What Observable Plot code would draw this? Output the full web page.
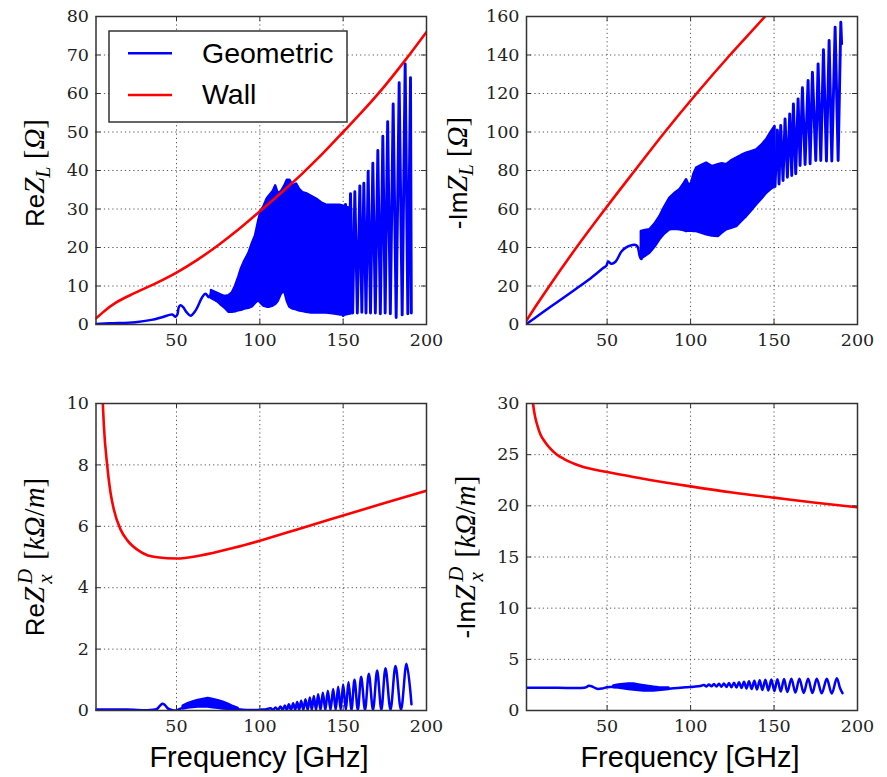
<!DOCTYPE html>
<html><head><meta charset="utf-8">
<script src="https://cdn.jsdelivr.net/npm/d3@7"></script>
<script src="https://cdn.jsdelivr.net/npm/@observablehq/plot@0.6"></script>
<style>
body{margin:0;background:#fff;}
#wrap{position:relative;width:887px;height:777px;overflow:hidden;background:#fff;}
#wrap svg{position:absolute;}
</style></head><body><div id="wrap"></div>
<script>
// ---------- tick labels ----------
const xTicks = [50, 100, 150, 200];
const xDomain = [1.7, 200];
const yTicksReZL = [0, 10, 20, 30, 40, 50, 60, 70, 80];
const yTicksImZL = [0, 20, 40, 60, 80, 100, 120, 140, 160];
const yTicksReZx = [0, 2, 4, 6, 8, 10];
const yTicksImZx = [0, 5, 10, 15, 20, 25, 30];
const seriesNames = ["Geometric", "Wall"];

// ---------- Re Z_L [Ohm] ----------
const wallReZL = [[1.7,1.6],[7,3.6],[13.4,5.6],[25,8.2],[37.5,10.7],[50,13.5],[62.5,16.8],[75,20.6],[87.5,24.8],[100,29.4],[112.5,34.1],[125,39],[137.5,44.3],[150,50],[162.5,55.8],[175,62],[187.5,68.8],[200,76]];
const geoReZLLine = [[1.7,0.1],[10,0.3],[25.4,0.6],[35,1.2],[41.4,1.9],[47.4,2.6],[49.4,2.0],[50.5,2.6],[51.4,4.5],[52.4,5.0],[54,4.5],[56,3.2],[58.4,2.3],[61.4,3.6],[63.5,5.4],[65.4,7.1],[67.4,8.0],[69.4,7.1],[71,8.6]];
const geoReZLBand = [[71,6.8,8.8],[73,6.3,8.4],[75,5.8,8.0],[77,5.0,7.6],[79,4.3,7.3],[81.4,3.2,7.5],[83.5,3.2,8.2],[85.5,3.3,10],[87.4,3.6,12.3],[89,3.7,14.5],[91,4.0,16.5],[93.4,4.2,18.4],[95.5,4.6,21],[97.4,5.5,23],[99.4,6.2,27],[100.8,5.5,29.5],[102.4,4.8,30.5],[104.4,4.5,32.6],[106,4.5,33.5],[108,4.8,34.5],[109.5,5.2,36],[111,6,34],[113,8,34.5],[115,8.5,36],[116.5,6,37.5],[118,4.5,37.5],[120,4.0,36],[122,3.8,36.5],[124,3.5,35],[126,3.4,34.2],[128,3.2,34],[131,3.0,33.3],[134,3.0,32.6],[137,3.0,31.6],[140,3.0,31],[144,2.8,31],[148,2.5,31],[152,2.5,30.5],[155,2.8,30]];
const geoReZLSpikes = [[150,2.3],[151.4,31.2],[152.9,3.2],[154.4,34],[155.7,3.0],[157,34.5],[158.5,3.0],[160,36],[161.2,3.2],[162.4,36.7],[163.7,3.0],[165,39.8],[166.4,3.0],[167.8,41.9],[169.3,3.0],[170.8,45.2],[172.3,2.8],[173.8,48.9],[175.2,3.0],[176.7,52.7],[178.3,2.8],[180,57.3],[181.8,1.8],[183.6,62.8],[185.4,2.5],[187.2,67.7],[188.8,2.8],[190.4,64.1],[190.9,3.0]];

// ---------- -Im Z_L [Ohm] ----------
const wallImZL = [[1.7,2],[8,10.5],[15,19.5],[31.6,40],[48.8,60],[66.6,80],[84.6,100],[103.6,120],[123.6,140],[144.6,160],[150,165.3]];
const geoImZLLine = [[1.7,0.3],[10,5.4],[20,11.6],[30,17.7],[40,23.9],[47.6,29.3],[49.5,30.5],[50.6,32.7],[52.6,31.5],[55,32.6],[58.6,37.9],[61,39.8],[63.6,40.9],[66.6,41.4],[68.2,40.5],[69.6,35.3],[70.6,34]];
const geoImZLBand = [[70.5,34,48.3],[73,35.5,48.8],[75.6,37,49.2],[78.5,40,52],[81.6,44,56],[84.5,47,61],[87.6,49.2,65.6],[90.5,49.5,68],[93.6,49.2,70],[96,48.8,73],[97.6,48.3,75.2],[99,48.5,72.5],[100.6,48.5,73.4],[102,48.3,78],[103.6,48.3,81.2],[106.5,47.5,82.5],[109.6,46.6,83.8],[113,46,82],[116.6,45.7,83],[119,47.5,83.5],[121.6,49.2,83],[124.5,50,85],[127.6,50.9,86.4],[130.5,53.5,87.8],[133.6,56.1,89],[136.5,59,89.8],[139.6,62.2,90.7],[142.5,65,93],[145.6,68.2,96],[148,70,99.5],[150.6,71.7,102.9]];
const geoImZLSpikes = [[150.6,71.7],[152,101],[153,73],[154,103.4],[155.4,74.8],[156.6,106.8],[158,76.5],[159.4,109.4],[160.6,77.4],[161.6,114.6],[163,78.3],[164.4,117.2],[165.6,82.6],[167,123],[168.6,83.1],[170.4,126.8],[171.6,83.5],[173,131],[175,85.2],[176.4,135.4],[178,85.2],[179.6,142.7],[181.4,84.9],[183,147.5],[184.6,84.9],[186.6,154.5],[188.4,85.2],[190,157],[190.5,145.8]];

// ---------- Re Z_x^D [kOhm/m] ----------
const wallReZx = [[5.2,10.8],[5.8,10],[6.4,9.3],[8.4,8.0],[10.4,7.1],[12.4,6.55],[16.4,5.9],[20.4,5.55],[28.4,5.17],[38.4,4.99],[50,4.95],[64.4,5.05],[84.4,5.3],[100,5.53],[124.4,5.93],[150,6.35],[174.4,6.75],[200,7.16]];
const geoReZxLine = [[1.7,0.03],[20,0.03],[38,0.04],[40,0.15],[41.5,0.22],[43,0.18],[45,0.06],[47,0.02],[49.5,0.0],[52,0.05],[54,0.1]];
const geoReZxBand = [[54,0.05,0.14],[57,0.08,0.22],[60,0.1,0.28],[63,0.11,0.33],[66,0.11,0.36],[69,0.11,0.39],[72,0.09,0.36],[75,0.07,0.32],[78,0.05,0.27],[81,0.04,0.21],[84,0.03,0.13],[87,0.02,0.07]];
const geoReZxTail = [[87,0.04],[92,0.02],[97,0.02],[101,0.03],[104,0.04],[106.4,0.07],[107.9,0.02],[109.4,0.1],[110.9,0.02],[112.4,0.13],[113.7,0.02],[115,0.16],[116.2,0.02],[117.4,0.2],[118.7,0.02],[120,0.24],[121.2,0.02],[122.4,0.28],[123.6,0.02],[124.8,0.32],[126.1,0.02],[127.4,0.37],[128.7,0.02],[130,0.42],[131.2,0.02],[132.4,0.47],[133.7,0.02],[135,0.53],[136.4,0.02],[137.8,0.58],[139.3,0.02],[140.8,0.64],[142.4,0.02],[144,0.7],[145.5,0.02],[147,0.77],[148.5,0.02],[150,0.85],[151.6,0.02],[153.2,0.93],[155,0.02],[156.8,1.0],[158.8,0.02],[160.8,1.1],[163.1,0.02],[165.4,1.2],[167.9,0.02],[170.4,1.3],[172.9,0.02],[175.4,1.38],[178.4,0.02],[181.4,1.45],[184.7,0.02],[188,1.52],[191,0.2]];

// ---------- -Im Z_x^D [kOhm/m] ----------
const wallImZx = [[5,31],[5.6,30],[7,28.6],[8.5,27.7],[10,27.0],[13,26.2],[16,25.6],[20,25.0],[24,24.6],[34,23.9],[50,23.3],[70,22.7],[100,21.9],[125,21.3],[150,20.8],[175,20.3],[200,19.85]];
const geoImZxLine = [[1.7,2.22],[20,2.22],[37,2.25],[39,2.42],[41,2.35],[44,2.12],[47,2.15],[50,2.28],[54,2.32]];
const geoImZxBand = [[54,2.22,2.4],[57,2.2,2.5],[60,2.12,2.55],[63,2.05,2.6],[66,2.0,2.58],[69,1.95,2.5],[72,1.9,2.42],[75,1.9,2.35],[78,1.9,2.28],[81,1.95,2.22],[84,2.0,2.2],[87,2.05,2.2]];
const geoImZxTail = [[87,2.12],[92,2.2],[97,2.28],[102,2.33],[106,2.4],[108,2.5],[109.5,2.35],[111,2.55],[112.5,2.36],[114,2.58],[115.5,2.34],[117,2.62],[118.5,2.32],[120,2.65],[121.5,2.3],[123,2.68],[124.5,2.27],[126,2.72],[127.5,2.24],[129,2.75],[130.5,2.2],[132,2.8],[133.5,2.16],[135,2.85],[136.6,2.1],[138.2,2.9],[139.8,2.05],[141.4,2.95],[143,2.0],[144.8,3.0],[146.6,1.95],[148.4,3.02],[150.2,1.9],[152,3.05],[154,1.85],[156,3.08],[158,1.8],[160.4,3.1],[162.8,1.75],[165.2,3.1],[167.8,1.72],[170.4,3.1],[173,1.7],[175.6,3.1],[178.6,1.68],[181.6,3.1],[184.6,1.66],[187.6,3.15],[189.5,2.2],[191,1.7]];

// ---------- drawing ----------
const BLUE = "#0000ff", RED = "#ff0000";
const wrap = document.getElementById("wrap");
const fx = d => d[0], fy = d => d[1];
const SANS = "'Liberation Sans', Arial, sans-serif";
const SERIF = "'Liberation Serif', 'Times New Roman', serif";
const TICKFONT = "'DejaVu Serif', serif";

function panel(cfg) {
  const {left, top, width, height, mL, mR, mT, mB, yDomain, yTicks, wall, line, band, tail, tailCurve, tailWidth} = cfg;
  const innerW = width - mL - mR, innerH = height - mT - mB;
  const gridStyle = {stroke: "#444", strokeOpacity: 0.9, strokeWidth: 1, strokeDasharray: "1.2,3"};
  const tickText = {tickSize: 0, label: null};
  const svg = Plot.plot({
    width, height,
    marginLeft: mL, marginRight: mR, marginTop: mT, marginBottom: mB,
    style: "background: transparent; overflow: visible;",
    x: {domain: xDomain},
    y: {domain: yDomain},
    marks: [
      Plot.gridX(xTicks.filter(t => t < xDomain[1]), gridStyle),
      Plot.gridY(yTicks.filter(t => t > yDomain[0] && t < yDomain[1]), gridStyle),
      Plot.line(line, {x: fx, y: fy, stroke: BLUE, strokeWidth: 2.5, curve: "catmull-rom", clip: true}),
      Plot.areaY(band, {x: fx, y1: d => d[1], y2: d => d[2], fill: BLUE, stroke: BLUE, strokeWidth: 2.5, clip: true}),
      Plot.line(tail, {x: fx, y: fy, stroke: BLUE, strokeWidth: tailWidth, curve: tailCurve, clip: true}),
      Plot.line(wall, {x: fx, y: fy, stroke: RED, strokeWidth: 2.6, curve: "monotone-x", clip: true}),
      Plot.ruleX(xTicks, {insetTop: innerH - 5, stroke: "#333"}),
      Plot.ruleX(xTicks, {insetBottom: innerH - 5, stroke: "#333"}),
      Plot.ruleY(yTicks, {insetLeft: innerW - 5, stroke: "#333"}),
      Plot.ruleY(yTicks, {insetRight: innerW - 5, stroke: "#333"}),
      Plot.frame({stroke: "#333", strokeWidth: 1.5}),
      Plot.axisX(xTicks, {...tickText, tickPadding: 9}),
      Plot.axisY(yTicks, {...tickText, tickPadding: 7})
    ]
  });
  // at this point every text element in the svg is a tick label: style them like the reference
  d3.select(svg).selectAll("text")
    .style("font-family", TICKFONT).style("font-size", "17.5px").style("fill", "#222");
  svg.style.left = left + "px";
  svg.style.top = top + "px";
  wrap.appendChild(svg);
  return svg;
}

function ylabel(svg, x, y, parts) {
  const t = d3.select(svg).append("text")
    .attr("transform", `translate(${x},${y}) rotate(-90)`)
    .attr("text-anchor", "middle").attr("fill", "#000");
  for (const p of parts) {
    const s = t.append("tspan")
      .attr("font-family", p.sans ? SANS : SERIF)
      .attr("font-style", p.it ? "italic" : "normal")
      .attr("font-size", p.size || (p.sans ? 26 : 29))
      .text(p.t);
    if (p.dx) s.attr("dx", p.dx);
    if (p.dy) s.attr("dy", p.dy);
  }
}

function xlabel(svg, x, y) {
  d3.select(svg).append("text").attr("x", x).attr("y", y)
    .attr("text-anchor", "middle").attr("font-family", SANS).attr("font-size", 29).attr("fill", "#000")
    .text("Frequency [GHz]");
}

const L = {left: 0, width: 440, mL: 95.5, mR: 14};
const R = {left: 440, width: 447, mL: 86, mR: 30};
const T = {top: 0, height: 380, mT: 16, mB: 56};
const B = {top: 380, height: 397, mT: 23, mB: 67};

const p1 = panel({...L, ...T, yDomain: [0, 80], yTicks: yTicksReZL, wall: wallReZL, line: geoReZLLine, band: geoReZLBand, tail: geoReZLSpikes, tailCurve: "linear", tailWidth: 2.9});
const p2 = panel({...R, ...T, yDomain: [0, 160], yTicks: yTicksImZL, wall: wallImZL, line: geoImZLLine, band: geoImZLBand, tail: geoImZLSpikes, tailCurve: "linear", tailWidth: 2.9});
const p3 = panel({...L, ...B, yDomain: [0, 10], yTicks: yTicksReZx, wall: wallReZx, line: geoReZxLine, band: geoReZxBand, tail: geoReZxTail, tailCurve: "catmull-rom", tailWidth: 2.5});
const p4 = panel({...R, ...B, yDomain: [0, 30], yTicks: yTicksImZx, wall: wallImZx, line: geoImZxLine, band: geoImZxBand, tail: geoImZxTail, tailCurve: "catmull-rom", tailWidth: 2.5});

ylabel(p1, 43.5, 173, [
  {t: "Re", sans: true}, {t: "Z", it: true}, {t: "L", it: true, size: 20, dy: 6}, {t: " [", dy: -6}, {t: "Ω", it: true}, {t: "]"}
]);
ylabel(p2, 27, 173, [
  {t: "-Im", sans: true}, {t: "Z", it: true}, {t: "L", it: true, size: 20, dy: 6}, {t: " [", dy: -6}, {t: "Ω", it: true}, {t: "]"}
]);
ylabel(p3, 43.5, 177, [
  {t: "Re", sans: true}, {t: "Z", it: true}, {t: "D", it: true, size: 21, dx: 3, dy: -12}, {t: "x", it: true, size: 21, dx: -15, dy: 20}, {t: "  [", dy: -8}, {t: "k", it: true}, {t: "Ω", it: true}, {t: "/"}, {t: "m", it: true}, {t: "]"}
]);
ylabel(p4, 35, 177, [
  {t: "-Im", sans: true}, {t: "Z", it: true}, {t: "D", it: true, size: 21, dx: 3, dy: -12}, {t: "x", it: true, size: 21, dx: -15, dy: 20}, {t: "  [", dy: -8}, {t: "k", it: true}, {t: "Ω", it: true}, {t: "/"}, {t: "m", it: true}, {t: "]"}
]);

xlabel(p3, 259, 387);
xlabel(p4, 250, 387);

// legend in first panel
const lg = d3.select(p1).append("g");
lg.append("rect").attr("x", 109).attr("y", 31).attr("width", 238).attr("height", 91)
  .attr("fill", "#fff").attr("stroke", "#333").attr("stroke-width", 1.5);
[[BLUE, 53.3, 63], [RED, 95, 104]].forEach(([c, ly, ty], i) => {
  lg.append("line").attr("x1", 128).attr("x2", 172).attr("y1", ly).attr("y2", ly)
    .attr("stroke", c).attr("stroke-width", 2.6);
  lg.append("text").attr("x", 202).attr("y", ty).attr("text-anchor", "start")
    .attr("font-family", SANS).attr("font-size", 28.5)
    .attr("fill", "#000").text(seriesNames[i]);
});
</script></body></html>
